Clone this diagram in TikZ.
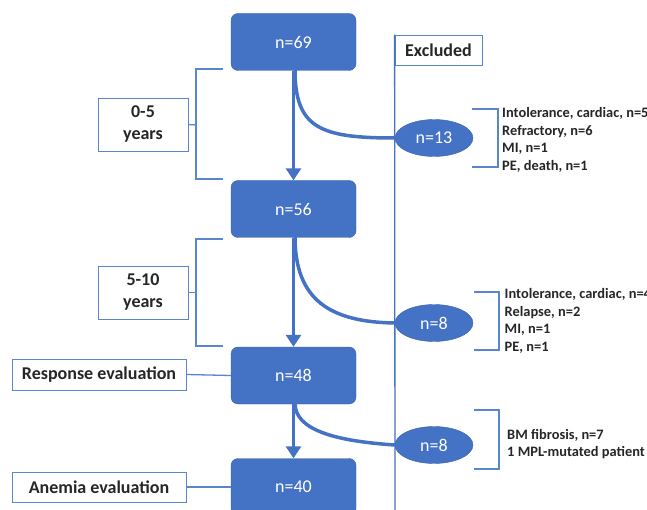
\documentclass[tikz,border=0pt]{standalone}
\usepackage{fontspec}
\setmainfont{Carlito}
\usetikzlibrary{calc,positioning,shapes.geometric,arrows.meta}
\definecolor{boxblue}{HTML}{4472C4}
\definecolor{lineblue}{HTML}{5A86D0}
\definecolor{txtgray}{HTML}{262626}

\tikzset{
  countbox/.style={draw=boxblue!85!black, fill=boxblue, rounded corners=7pt,
    minimum width=125pt, minimum height=57pt, inner sep=0pt,
    text=white, font=\fontsize{18}{20}\selectfont},
  exclell/.style={ellipse, draw=boxblue!85!black, fill=boxblue,
    minimum width=78pt, minimum height=37pt, inner sep=0pt,
    text=white, font=\fontsize{18}{20}\selectfont},
  labelbox/.style={draw=lineblue, line width=0.8pt, fill=white, inner sep=0pt,
    text=txtgray, align=center, font=\bfseries\fontsize{18}{22}\selectfont},
  reason/.style={anchor=west, inner sep=0pt, align=left, text=txtgray,
    font=\bfseries\fontsize{14.4}{17.4}\selectfont},
  flow/.style={draw=boxblue, line width=3.5pt, -{Triangle[length=12pt,width=15pt]}},
  branch/.style={draw=boxblue, line width=3.5pt},
  bracket/.style={draw=lineblue, line width=1.3pt}
}

\begin{document}
\begin{tikzpicture}[x=1pt,y=-1pt]

\useasboundingbox (0,0) rectangle (647,510);

% excluded column
\node [labelbox, minimum width=87pt, minimum height=30pt] (excl) at (438.5,50) {Excluded};
\coordinate (exclend) at (395,515);
\draw [draw=boxblue, line width=1.3pt] (excl.north west) -- (exclend);

% main flow
\node [countbox] (n69) at (293.5,42) {n=69};
\node [countbox] (n56) at (293.5,209) {n=56};
\node [countbox] (n48) at (293.5,375.5) {n=48};
\node [countbox] (n40) at (293.5,487) {n=40};

\node [exclell] (e13) at (434,138) {n=13};
\node [exclell] (e8a) at (434,323) {n=8};
\node [exclell] (e8b) at (434,445) {n=8};

\draw [flow] (n69) -- (n56);
\draw [flow] (n56) -- (n48);
\draw [flow] (n48) -- (n40);

\draw [branch] ($(n69.south)+(1.5,-1)$) .. controls (295,128) and (320,138) .. (e13.west);
\draw [branch] ($(n56.south)+(1.5,-1)$) .. controls (295,300) and (330,322) .. (e8a.west);
\draw [branch] ($(n48.south)+(1.5,-1)$) .. controls (295,430) and (335,441) .. (e8b.west);

% reasons
\node [reason] (r13) at (502,140) {Intolerance, cardiac, n=5\\Refractory, n=6\\MI, n=1\\PE, death, n=1};
\node [reason] (r8a) at (504.5,321) {Intolerance, cardiac, n=4\\Relapse, n=2\\MI, n=1\\PE, n=1};
\node [reason] (r8b) at (507,444) {BM fibrosis, n=7\\1 MPL-mutated patient};

\draw [bracket] (472,109) -| (498,167) -- (472,167);
\draw [bracket] (474,292) -| (499,350) -- (474,350);
\draw [bracket] (474,410) -| (499,469) -- (474,469);

% periods
\node [labelbox, minimum width=90pt, minimum height=53pt] (p05) at (143,124.5) {0-5\\years};
\node [labelbox, minimum width=90pt, minimum height=53pt] (p510) at (143,292.5) {5-10\\years};

\coordinate (b05) at (196,125);
\coordinate (b510) at (196,292.5);
\draw [bracket] (223,69) -- (196,69) -- (196,179) -- (223,179);
\draw [bracket] (223,239) -- (196,239) -- (196,346) -- (223,346);
\draw [bracket] (p05.east) -- (b05);
\draw [bracket] (p510.east) -- (b510);

% evaluations
\node [labelbox, minimum width=174pt, minimum height=31pt] (resp) at (99,374.5) {Response evaluation};
\node [labelbox, minimum width=174pt, minimum height=30pt] (anem) at (99,487) {Anemia evaluation};
\draw [bracket] (resp.east) -- (n48.west);
\draw [bracket] (anem.east) -- (n40.west);

\end{tikzpicture}
\end{document}
